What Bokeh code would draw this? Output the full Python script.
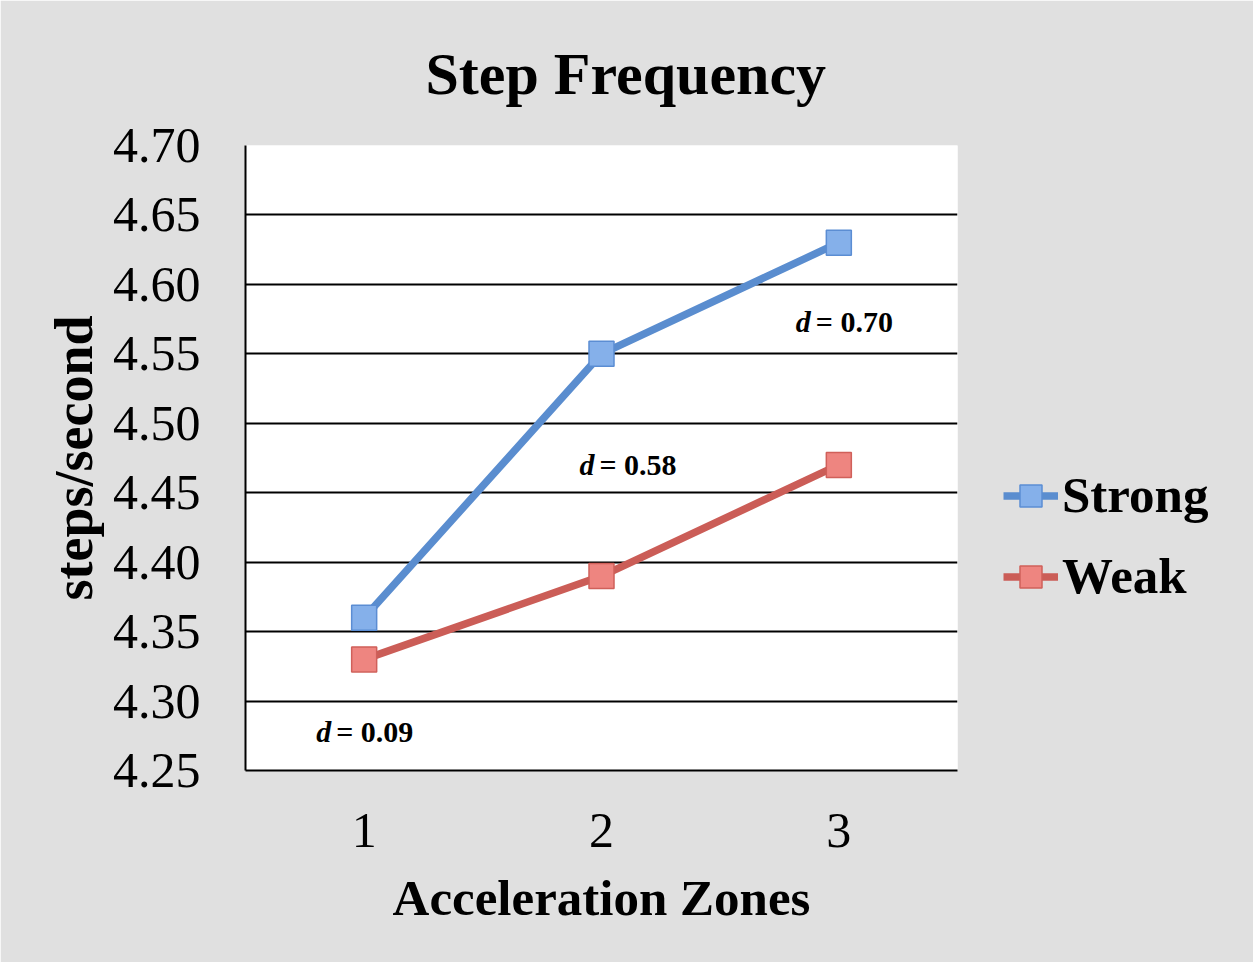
from bokeh.plotting import figure
from bokeh.models import (FixedTicker, PrintfTickFormatter, Legend, LegendItem,
                          ColumnDataSource)
from bokeh.core.properties import value
from bokeh.embed import file_html
from bokeh.resources import INLINE

# Data
zones = [1, 2, 3]
strong = [4.36, 4.55, 4.63]
weak = [4.33, 4.39, 4.47]
y_ticks = [4.25, 4.30, 4.35, 4.40, 4.45, 4.50, 4.55, 4.60, 4.65, 4.70]
effect_labels = ["= 0.09", "= 0.58", "= 0.70"]
effect_zone = [1, 2, 3]
effect_y = [4.278, 4.470, 4.573]

SERIF = "Liberation Serif"
BG = "#e0e0e0"

p = figure(frame_width=712, frame_height=625,
           x_range=(0.5, 3.5), y_range=(4.25, 4.70),
           output_backend="svg", toolbar_location=None,
           min_border_left=245, min_border_right=296,
           min_border_top=145, min_border_bottom=192)
p.background_fill_color = "white"
p.border_fill_color = BG
p.outline_line_color = None

# Title
p.title.text = "Step Frequency"
p.title.text_font = SERIF
p.title.text_font_style = "bold"
p.title.text_font_size = "60px"
p.title.text_color = "black"
p.title.align = "left"
p.title.offset = 180
p.title.standoff = 77

# Y axis
p.yaxis.ticker = FixedTicker(ticks=y_ticks)
p.yaxis.formatter = PrintfTickFormatter(format="%.2f")
p.yaxis.axis_label = "steps/second"
p.yaxis.axis_label_text_font = SERIF
p.yaxis.axis_label_text_font_style = "bold"
p.yaxis.axis_label_text_font_size = "54px"
p.yaxis.axis_label_standoff = 6
p.yaxis.major_label_text_font = SERIF
p.yaxis.major_label_text_font_size = "50px"
p.yaxis.major_label_standoff = 45

# X axis
p.xaxis.ticker = FixedTicker(ticks=zones)
p.xaxis.major_label_overrides = {z: str(z) for z in zones}
p.xaxis.axis_label = "Acceleration Zones"
p.xaxis.axis_label_text_font = SERIF
p.xaxis.axis_label_text_font_style = "bold"
p.xaxis.axis_label_text_font_size = "51px"
p.xaxis.axis_label_standoff = 20
p.xaxis.major_label_text_font = SERIF
p.xaxis.major_label_text_font_size = "50px"
p.xaxis.major_label_standoff = 43

for ax in (p.xaxis, p.yaxis):
    ax.axis_line_color = "black"
    ax.axis_line_width = 2
    ax.major_tick_line_color = None
    ax.minor_tick_line_color = None
    ax.major_tick_in = 0
    ax.major_tick_out = 0
    ax.major_label_text_color = "black"
    ax.axis_label_text_color = "black"

p.xgrid.grid_line_color = None
p.ygrid.grid_line_color = "black"
p.ygrid.grid_line_width = 2
p.ygrid.ticker = FixedTicker(ticks=y_ticks)

# Series
src = ColumnDataSource(dict(x=zones, strong=strong, weak=weak))
ls = p.line("x", "strong", source=src, line_color="#5a8dcf", line_width=7.5)
ms = p.scatter("x", "strong", source=src, marker="square", size=25,
               fill_color="#85b0ea", line_color="#5b8dd3", line_width=1.5)
lw = p.line("x", "weak", source=src, line_color="#cb5d57", line_width=7.5)
mw = p.scatter("x", "weak", source=src, marker="square", size=25,
               fill_color="#ee8580", line_color="#d0605a", line_width=1.5)

# Effect sizes: italic "d" followed by the value
esrc = ColumnDataSource(dict(x=effect_zone, y=effect_y, t=effect_labels,
                             dx=[-33, -7, -28], tx=[-28, -2, -23]))
p.text("x", "y", text=value("d"), source=esrc, x_offset="dx",
       text_align="right", text_baseline="middle",
       text_font=value(SERIF), text_font_style="bold italic",
       text_font_size="30px", text_color="black")
p.text("x", "y", text="t", source=esrc, x_offset="tx",
       text_align="left", text_baseline="middle",
       text_font=value(SERIF), text_font_style="bold",
       text_font_size="30px", text_color="black")

legend = Legend(items=[LegendItem(label="Strong", renderers=[ls, ms]),
                       LegendItem(label="Weak", renderers=[lw, mw])],
                location=(46, 165))
legend.label_text_font = SERIF
legend.label_text_font_style = "bold"
legend.label_text_font_size = "51px"
legend.label_text_color = "black"
legend.glyph_width = 55
legend.glyph_height = 55
legend.label_standoff = 4
legend.spacing = 23
legend.padding = 0
legend.margin = 0
legend.border_line_color = None
legend.background_fill_alpha = 0
p.add_layout(legend, "right")

open("out.html", "w").write(file_html(p, INLINE))
